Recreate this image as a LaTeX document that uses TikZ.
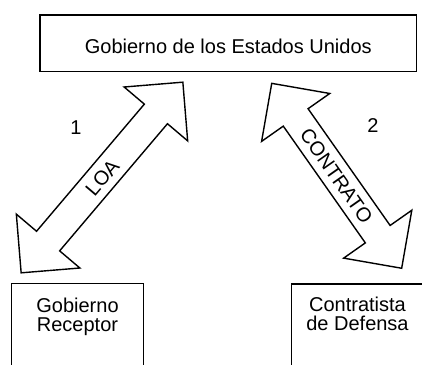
\documentclass[tikz,border=0pt]{standalone}
\usepackage{fontspec}
\setmainfont{Liberation Sans}
\usetikzlibrary{shapes.arrows}
\tikzset{box/.style = {draw, line width=0.7pt, align=center, inner sep=0pt, font=\fontsize{10}{9.3}\selectfont}}
\tikzset{bigarrow/.style = {double arrow, draw, line width=0.7pt, double arrow tip angle=90, double arrow head extend=13.25pt, text height=7.25pt, text depth=0pt, inner ysep=3.6pt, inner xsep=1pt, font=\fontsize{10}{12}\selectfont}}

\begin{document}
\begin{tikzpicture}[x=0.5pt, y=-0.5pt]
	\clip (0,0) rectangle (422,364);
	\node (usa)[box, minimum width=188.3pt, minimum height=28.3pt, text height=10.6pt, text depth=0pt] at (228.3,43.3) {Gobierno de los Estados Unidos};
	\node (rcpt)[box, anchor=north, minimum width=65.8pt, text height=23.8pt, text depth=45pt] at (77.5,282.7) {Gobierno\\Receptor};
	\node (ctr)[box, anchor=north, minimum width=66pt, text height=23pt, text depth=45pt] at (357.5,283.3) {Contratista\\de Defensa};
	
	\node (loa)[bigarrow, minimum height=125pt, rotate=49.7] at (102,177.5) {LOA};
	\node (contrato)[bigarrow, minimum height=113pt, rotate=-54.9] at (336.7,175.8) {CONTRATO};
	
	\node (n1)[font=\fontsize{10}{12}\selectfont] at (76,128) {1};
	\node (n2)[font=\fontsize{10}{12}\selectfont] at (373,126) {2};
\end{tikzpicture}
\end{document}
